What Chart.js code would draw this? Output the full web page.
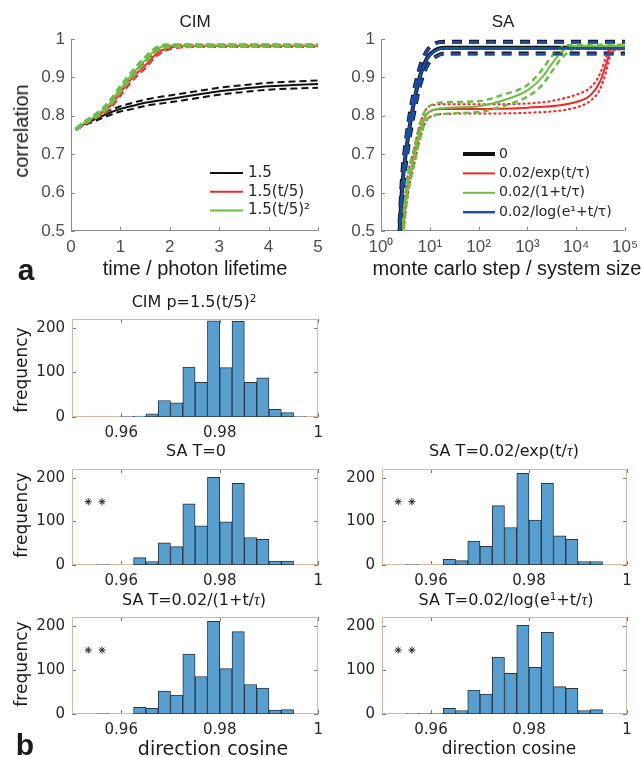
<!DOCTYPE html>
<html>
<head>
<meta charset="utf-8">
<title>CIM vs SA correlation</title>
<script src="https://cdn.jsdelivr.net/npm/chart.js@4.4.1/dist/chart.umd.min.js"></script>
<style>
  html, body { margin: 0; padding: 0; background: #fff; }
  #fig { position: relative; width: 644px; height: 757px; overflow: hidden;
         font-family: "Liberation Sans", Arial, sans-serif; color: #1a1a1a; }
  #fig canvas { position: absolute; }
  .t { position: absolute; white-space: nowrap; line-height: 1; transform: translate(-50%, -50%); }
  .rot { transform: translate(-50%, -50%) rotate(-90deg); }
  .dv { font-family: "DejaVu Sans", sans-serif; }
  .tau { font-family: "Liberation Serif", serif; font-style: italic; }
  sup { font-size: 65%; vertical-align: 0.5em; line-height: 0; }
</style>
</head>
<body>
<div id="fig">
  <canvas id="cim" width="330" height="290" style="left:0;top:0"></canvas>
  <canvas id="sa" width="324" height="290" style="left:320px;top:0"></canvas>
  <canvas id="h1" width="330" height="146" style="left:0;top:303px"></canvas>
  <canvas id="h2" width="330" height="144" style="left:0;top:453px"></canvas>
  <canvas id="h3" width="324" height="144" style="left:320px;top:453px"></canvas>
  <canvas id="h4" width="330" height="145" style="left:0;top:601px"></canvas>
  <canvas id="h5" width="324" height="145" style="left:320px;top:601px"></canvas>

  <div class="t" style="left:195px;top:21px;font-size:17px">CIM</div>
  <div class="t" style="left:503px;top:21px;font-size:17px">SA</div>
  <div class="t rot" style="left:21px;top:131px;font-size:20px">correlation</div>
  <div class="t" style="left:195px;top:268px;font-size:20px">time / photon lifetime</div>
  <div class="t" style="left:507px;top:268px;font-size:20px">monte carlo step / system size</div>
  <div class="t" style="left:26px;top:270px;font-size:30px;font-weight:bold">a</div>
  <div class="t" style="left:25px;top:745px;font-size:30px;font-weight:bold">b</div>

  <div class="t dv" style="left:194px;top:302px;font-size:16px">CIM p=1.5(t/5)<sup>2</sup></div>
  <div class="t dv" style="left:196px;top:451px;font-size:16px">SA T=0</div>
  <div class="t dv" style="left:504px;top:451px;font-size:16px">SA T=0.02/exp(t/<span class="tau">τ</span>)</div>
  <div class="t dv" style="left:194px;top:600px;font-size:16px">SA T=0.02/(1+t/<span class="tau">τ</span>)</div>
  <div class="t dv" style="left:506px;top:600px;font-size:16px">SA T=0.02/log(e<sup>1</sup>+t/<span class="tau">τ</span>)</div>
  <div class="t dv rot" style="left:21px;top:370px;font-size:17px">frequency</div>
  <div class="t dv rot" style="left:21px;top:515px;font-size:17px">frequency</div>
  <div class="t dv rot" style="left:21px;top:664px;font-size:17px">frequency</div>
  <div class="t dv" style="left:213px;top:748px;font-size:19px">direction cosine</div>
  <div class="t dv" style="left:509px;top:748px;font-size:17px">direction cosine</div>
</div>

<script>
// ---------- panel a, left: CIM ----------
const cimTime   = [0.1, 0.25, 0.5, 0.75, 1, 1.25, 1.5, 1.75, 2, 2.25, 2.5, 3, 3.5, 4, 4.5, 5];
const cimConst   = [0.765, 0.777, 0.792, 0.806, 0.818, 0.826, 0.834, 0.839, 0.844, 0.849, 0.854, 0.864, 0.871, 0.877, 0.880, 0.883];
const cimConstHi = [0.767, 0.780, 0.797, 0.812, 0.825, 0.834, 0.842, 0.848, 0.853, 0.858, 0.863, 0.873, 0.880, 0.886, 0.889, 0.892];
const cimConstLo = [0.763, 0.774, 0.787, 0.800, 0.811, 0.818, 0.826, 0.831, 0.835, 0.840, 0.845, 0.855, 0.862, 0.868, 0.871, 0.873];
const cimLin     = [0.765, 0.778, 0.798, 0.819, 0.860, 0.900, 0.931, 0.964, 0.978, 0.982, 0.982, 0.982, 0.982, 0.982, 0.982, 0.982];
const cimLinHi   = [0.767, 0.781, 0.803, 0.826, 0.868, 0.908, 0.939, 0.970, 0.982, 0.985, 0.985, 0.985, 0.985, 0.985, 0.985, 0.985];
const cimLinLo   = [0.763, 0.775, 0.793, 0.812, 0.852, 0.892, 0.923, 0.957, 0.973, 0.978, 0.979, 0.979, 0.979, 0.979, 0.979, 0.979];
const cimQuad    = [0.765, 0.780, 0.800, 0.827, 0.870, 0.910, 0.945, 0.975, 0.983, 0.983, 0.983, 0.983, 0.983, 0.983, 0.983, 0.983];
const cimQuadHi  = [0.767, 0.783, 0.805, 0.834, 0.878, 0.918, 0.953, 0.980, 0.986, 0.986, 0.986, 0.986, 0.986, 0.986, 0.986, 0.986];
const cimQuadLo  = [0.763, 0.777, 0.795, 0.820, 0.862, 0.902, 0.937, 0.968, 0.979, 0.980, 0.980, 0.980, 0.980, 0.980, 0.980, 0.980];
const cimLabels  = ['1.5', '1.5(t/5)', '1.5(t/5)²'];
const cimXTicks  = [0, 1, 2, 3, 4, 5];
const corrTicks  = [0.5, 0.6, 0.7, 0.8, 0.9, 1];

// ---------- panel a, right: SA ----------
const saStepsFast = [2.4, 2.7, 3.2, 4.2, 6.2, 8.8, 12.6, 20, 100, 1000, 10000, 100000];
const saZero      = [0.50, 0.61, 0.70, 0.80, 0.90, 0.950, 0.970, 0.977, 0.977, 0.977, 0.977, 0.977];
const saZeroHi    = [0.52, 0.64, 0.73, 0.83, 0.925, 0.970, 0.988, 0.993, 0.993, 0.993, 0.993, 0.993];
const saZeroLo    = [0.48, 0.58, 0.67, 0.77, 0.875, 0.930, 0.952, 0.962, 0.962, 0.962, 0.962, 0.962];
const saLog       = [0.50, 0.60, 0.70, 0.80, 0.90, 0.948, 0.969, 0.976, 0.976, 0.976, 0.976, 0.976];
const saLogHi     = [0.52, 0.63, 0.73, 0.83, 0.924, 0.969, 0.987, 0.992, 0.992, 0.992, 0.992, 0.992];
const saLogLo     = [0.48, 0.58, 0.67, 0.77, 0.874, 0.929, 0.951, 0.961, 0.961, 0.961, 0.961, 0.961];

const saStepsExp = [2.8, 3.4, 4.9, 6, 8.2, 11.6, 20, 100, 1000, 10000, 20000, 31000, 40000, 46000, 53000, 100000];
const saExp      = [0.50, 0.60, 0.70, 0.75, 0.800, 0.815, 0.818, 0.818, 0.821, 0.836, 0.855, 0.890, 0.930, 0.955, 0.975, 0.978];
const saExpHi    = [0.52, 0.63, 0.72, 0.77, 0.815, 0.828, 0.830, 0.830, 0.832, 0.855, 0.875, 0.910, 0.950, 0.970, 0.982, 0.982];
const saExpLo    = [0.48, 0.58, 0.68, 0.73, 0.785, 0.800, 0.805, 0.806, 0.808, 0.822, 0.840, 0.870, 0.910, 0.940, 0.968, 0.973];

const saStepsInv = [2.8, 3.4, 4.9, 6, 8.2, 11.6, 20, 100, 316, 1000, 2000, 3162, 5000, 10000, 100000];
const saInv      = [0.50, 0.60, 0.70, 0.75, 0.800, 0.815, 0.820, 0.825, 0.840, 0.866, 0.900, 0.935, 0.966, 0.981, 0.981];
const saInvHi    = [0.52, 0.63, 0.72, 0.77, 0.815, 0.830, 0.835, 0.838, 0.855, 0.880, 0.920, 0.955, 0.978, 0.985, 0.985];
const saInvLo    = [0.48, 0.58, 0.68, 0.73, 0.785, 0.800, 0.805, 0.810, 0.825, 0.850, 0.880, 0.915, 0.950, 0.975, 0.977];

const saLabels      = ['0', '0.02/exp(t/τ)', '0.02/(1+t/τ)', '0.02/log(e¹+t/τ)'];
const saXTicks      = [1, 10, 100, 1000, 10000, 100000];
const saXTickLabels = ['10⁰', '10¹', '10²', '10³', '10⁴', '10⁵'];

// ---------- panel b: histograms of direction cosine ----------
const binCenters = [0.95625, 0.95875, 0.96125, 0.96375, 0.96625, 0.96875, 0.97125, 0.97375, 0.97625,
                    0.97875, 0.98125, 0.98375, 0.98625, 0.98875, 0.99125, 0.99375, 0.99625];
const countsCIM   = [0, 0, 1, 2, 7, 37, 32, 112, 78, 216, 111, 215, 78, 88, 17, 10, 1];
const countsSA0   = [1, 0, 0, 17, 8, 51, 42, 140, 90, 201, 99, 187, 63, 59, 9, 9, 0];
const countsSAExp = [1, 0, 0, 13, 10, 55, 43, 136, 86, 210, 103, 187, 67, 59, 8, 8, 0];
const countsSAInv = [1, 0, 0, 15, 13, 52, 43, 136, 85, 210, 103, 187, 67, 59, 9, 10, 0];
const countsSALog = [1, 1, 1, 13, 8, 54, 45, 129, 92, 201, 106, 185, 62, 58, 8, 10, 0];
const markX = [0.9533, 0.9561];
const markY = [145, 145];
const cosTicks = [0.96, 0.98, 1];
const cosTickLabels = ['0.96', '0.98', '1'];
const freqTicks = [0, 100, 200];

// axes drawn like matlab: ticks pointing inwards, optional full box
const matlabAxes = {
  id: 'matlabAxes',
  beforeDatasetsDraw(chart, args, opts) {
    const {ctx, chartArea: a} = chart;
    const len = opts.tickLen || 4;
    ctx.save();
    ctx.lineWidth = 1;
    ctx.strokeStyle = opts.tickColor || '#666';
    ctx.beginPath();
    const sx = chart.scales.x, sy = chart.scales.y;
    sx.ticks.forEach(t => {
      const p = Math.round(sx.getPixelForValue(t.value)) + 0.5;
      ctx.moveTo(p, a.bottom); ctx.lineTo(p, a.bottom - len);
      if (opts.box) { ctx.moveTo(p, a.top); ctx.lineTo(p, a.top + len); }
    });
    sy.ticks.forEach(t => {
      const p = Math.round(sy.getPixelForValue(t.value)) + 0.5;
      ctx.moveTo(a.left, p); ctx.lineTo(a.left + len, p);
      if (opts.box) { ctx.moveTo(a.right, p); ctx.lineTo(a.right - len, p); }
    });
    ctx.stroke();
    ctx.strokeStyle = opts.lineColor || '#888';
    ctx.beginPath();
    const L = Math.round(a.left) + 0.5, B = Math.round(a.bottom) - 0.5;
    const R = Math.round(a.right) - 0.5, T = Math.round(a.top) + 0.5;
    ctx.moveTo(L, T); ctx.lineTo(L, B); ctx.lineTo(R, B);
    if (opts.box) { ctx.lineTo(R, T); ctx.lineTo(L, T); }
    ctx.stroke();
    ctx.restore();
  }
};

// legend inside the axes, lower right
const inlineLegend = {
  id: 'inlineLegend',
  afterDraw(chart, args, opts) {
    if (!opts.x) return;
    const ctx = chart.ctx;
    ctx.save();
    ctx.font = opts.font;
    ctx.textBaseline = 'middle';
    ctx.fillStyle = '#262626';
    chart.data.datasets.filter(d => d.label).forEach((d, i) => {
      const y = opts.y + i * opts.rowH;
      ctx.strokeStyle = d.borderColor;
      ctx.lineWidth = d.borderWidth;
      ctx.setLineDash([]);
      ctx.beginPath();
      ctx.moveTo(opts.x, y); ctx.lineTo(opts.x + opts.len, y);
      ctx.stroke();
      ctx.fillText(d.label, opts.x + opts.len + opts.gap, y);
    });
    ctx.restore();
  }
};

Chart.register(matlabAxes, inlineLegend);

const tickFont = {family: '"Liberation Sans", Arial, sans-serif', size: 17};

function pts(xs, ys) {
  return xs.map((x, i) => ({x: x, y: ys[i]}));
}

function line(label, xs, ys, color, width, dash, order) {
  return {
    label: label, data: pts(xs, ys), borderColor: color, borderWidth: width,
    borderDash: dash || [], pointRadius: 0, cubicInterpolationMode: 'monotone',
    fill: false, order: order, clip: 0
  };
}

const red = '#f02828', green = '#6cbd45', blue = '#1d4fa0';

new Chart(document.getElementById('cim'), {
  type: 'line',
  data: {
    datasets: [
      line('1.5', cimTime, cimConst, '#111', 2, null, 3),
      line(cimLabels[1], cimTime, cimLin, red, 2, null, 2),
      line(cimLabels[2], cimTime, cimQuad, green, 2, null, 1),
      line('', cimTime, cimConstHi, '#111', 2, [7, 4], 3),
      line('', cimTime, cimConstLo, '#111', 2, [7, 4], 3),
      line('', cimTime, cimLinHi, red, 2, [7, 4], 2),
      line('', cimTime, cimLinLo, red, 2, [7, 4], 2),
      line('', cimTime, cimQuadHi, green, 2.5, [7, 4], 1),
      line('', cimTime, cimQuadLo, green, 2.5, [7, 4], 1)
    ]
  },
  options: {
    responsive: false,
    animation: false,
    events: [],
    layout: {padding: {top: 39, right: 12, left: 0, bottom: 0}},
    scales: {
      x: {
        type: 'linear', min: 0, max: 5,
        afterBuildTicks: s => { s.ticks = cimXTicks.map(v => ({value: v})); },
        afterFit: s => { s.height = 59; },
        grid: {display: false, drawTicks: false}, border: {display: false},
        ticks: {padding: 6, color: '#4d4d4d', font: tickFont, maxRotation: 0, autoSkip: false}
      },
      y: {
        min: 0.5, max: 1,
        afterBuildTicks: s => { s.ticks = corrTicks.map(v => ({value: v})); },
        afterFit: s => { s.width = 71; },
        grid: {display: false, drawTicks: false}, border: {display: false},
        ticks: {padding: 6, color: '#4d4d4d', font: tickFont, callback: v => String(v)}
      }
    },
    plugins: {
      legend: {display: false},
      tooltip: {enabled: false},
      matlabAxes: {box: false, lineColor: '#8a8a8a', tickColor: '#8a8a8a'},
      inlineLegend: {x: 210, y: 173, rowH: 18.7, len: 33, gap: 5, font: '15px "DejaVu Sans"'}
    }
  }
});

new Chart(document.getElementById('sa'), {
  type: 'line',
  data: {
    datasets: [
      line(saLabels[0], saStepsFast, saZero, '#111', 4, null, 4),
      line(saLabels[1], saStepsExp, saExp, red, 2, null, 3),
      line(saLabels[2], saStepsInv, saInv, green, 2, null, 2),
      line(saLabels[3], saStepsFast, saLog, blue, 2.5, null, 1),
      line('', saStepsFast, saZeroHi, '#111', 4, [10, 7], 4),
      line('', saStepsFast, saZeroLo, '#111', 4, [10, 7], 4),
      line('', saStepsExp, saExpHi, red, 2, [3, 2], 3),
      line('', saStepsExp, saExpLo, red, 2, [3, 2], 3),
      line('', saStepsInv, saInvHi, green, 2.5, [6, 4], 2),
      line('', saStepsInv, saInvLo, green, 2.5, [6, 4], 2),
      line('', saStepsFast, saLogHi, blue, 2.5, [9, 8], 1),
      line('', saStepsFast, saLogLo, blue, 2.5, [9, 8], 1)
    ]
  },
  options: {
    responsive: false,
    animation: false,
    events: [],
    layout: {padding: {top: 39, right: 17, left: 0, bottom: 0}},
    scales: {
      x: {
        type: 'logarithmic', min: 1, max: 100000,
        afterBuildTicks: s => { s.ticks = saXTicks.map(v => ({value: v})); },
        afterFit: s => { s.height = 59; },
        grid: {display: false, drawTicks: false}, border: {display: false},
        ticks: {padding: 6, color: '#4d4d4d', font: tickFont, maxRotation: 0, autoSkip: false,
                callback: (v, i) => saXTickLabels[i]}
      },
      y: {
        min: 0.5, max: 1,
        afterBuildTicks: s => { s.ticks = corrTicks.map(v => ({value: v})); },
        afterFit: s => { s.width = 61; },
        grid: {display: false, drawTicks: false}, border: {display: false},
        ticks: {padding: 6, color: '#4d4d4d', font: tickFont, callback: v => String(v)}
      }
    },
    plugins: {
      legend: {display: false},
      tooltip: {enabled: false},
      matlabAxes: {box: false, lineColor: '#8a8a8a', tickColor: '#8a8a8a'},
      inlineLegend: {x: 143, y: 154, rowH: 19.4, len: 32, gap: 4, font: '14px "DejaVu Sans"'}
    }
  }
});

function histChart(id, counts, withMarks, axisW, padRight, xAxisH) {
  const datasets = [{
    type: 'bar',
    data: pts(binCenters, counts),
    backgroundColor: 'rgb(88,158,206)',
    borderColor: '#2a3640',
    borderWidth: 1,
    borderSkipped: false,
    barPercentage: 1,
    categoryPercentage: 1
  }];
  if (withMarks) {
    datasets.unshift({
      type: 'scatter',
      data: pts(markX, markY),
      pointStyle: 'star',
      pointRadius: 3.5,
      borderColor: '#222',
      borderWidth: 1
    });
  }
  return new Chart(document.getElementById(id), {
    type: 'bar',
    data: {datasets: datasets},
    options: {
      responsive: false,
      animation: false,
      events: [],
      layout: {padding: {top: 10, right: padRight, left: 0, bottom: 0}},
      scales: {
        x: {
          type: 'linear', min: 0.95, max: 1, offset: false,
          afterBuildTicks: s => { s.ticks = cosTicks.map(v => ({value: v})); },
          afterFit: s => { s.height = xAxisH; },
          grid: {display: false, drawTicks: false}, border: {display: false},
          ticks: {padding: 7, color: '#262626', font: {family: '"DejaVu Sans"', size: 15},
                  maxRotation: 0, autoSkip: false, callback: (v, i) => cosTickLabels[i]}
        },
        y: {
          min: 0, max: 220,
          afterBuildTicks: s => { s.ticks = freqTicks.map(v => ({value: v})); },
          afterFit: s => { s.width = axisW; },
          grid: {display: false, drawTicks: false}, border: {display: false},
          ticks: {padding: 7, color: '#262626', font: {family: '"DejaVu Sans"', size: 15}}
        }
      },
      plugins: {
        legend: {display: false},
        tooltip: {enabled: false},
        matlabAxes: {box: true, lineColor: '#d9b6a3', tickColor: '#777'}
      }
    }
  });
}

histChart('h1', countsCIM, false, 72, 10, 32);
histChart('h2', countsSA0, true, 72, 10, 32);
histChart('h3', countsSAExp, true, 62, 17, 32);
histChart('h4', countsSAInv, true, 72, 10, 32);
histChart('h5', countsSALog, true, 62, 17, 32);
</script>
</body>
</html>
